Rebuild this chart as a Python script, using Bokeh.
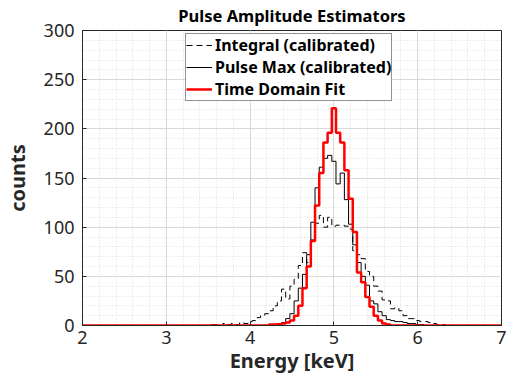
from bokeh.plotting import figure
from bokeh.models import SingleIntervalTicker, Range1d, Legend, LegendItem
from bokeh.embed import file_html
from bokeh.resources import INLINE

# ---------------- data (histogram bin centres in keV, counts) ----------------
integral_energy = [2.00, 3.50, 3.55, 3.60, 3.65, 3.70, 3.75, 3.80, 3.85, 3.90, 3.95,
                   4.00, 4.05, 4.10, 4.15, 4.20, 4.25, 4.30, 4.35, 4.40, 4.45,
                   4.50, 4.55, 4.60, 4.65, 4.70, 4.75, 4.80, 4.85, 4.90, 4.95,
                   5.00, 5.05, 5.10, 5.15, 5.20, 5.25, 5.30, 5.35, 5.40, 5.45,
                   5.50, 5.55, 5.60, 5.65, 5.70, 5.75, 5.80, 5.85, 5.90, 5.95,
                   6.00, 6.05, 6.10, 6.15, 6.20, 6.25, 6.30, 6.35, 7.00]
integral_counts = [0, 0, 1, 1, 0, 2, 1, 2, 1, 3, 2,
                   4, 5, 8, 10, 12, 15, 20, 25, 37, 27,
                   40, 47, 61, 74, 64, 87, 104, 112, 100, 110,
                   101, 102, 102, 101, 98, 76, 72, 68, 55, 50,
                   40, 35, 26, 25, 17, 18, 15, 10, 7, 7,
                   5, 4, 4, 3, 2, 1, 1, 0, 0]

pulsemax_energy = [2.00, 4.25, 4.30, 4.35, 4.40, 4.45, 4.50, 4.55, 4.60, 4.65, 4.70,
                   4.75, 4.80, 4.85, 4.90, 4.95, 5.00, 5.05, 5.10, 5.15, 5.20,
                   5.25, 5.30, 5.35, 5.40, 5.45, 5.50, 5.55, 5.60, 5.65, 5.70,
                   5.75, 5.80, 5.85, 5.90, 5.95, 6.00, 6.05, 6.10, 7.00]
pulsemax_counts = [0, 0, 1, 2, 3, 7, 12, 25, 38, 52, 72,
                   105, 140, 161, 170, 173, 167, 144, 155, 128, 103,
                   82, 64, 50, 41, 25, 22, 14, 10, 6, 5,
                   4, 4, 3, 2, 2, 1, 1, 0, 0]

tdfit_energy = [2.00, 4.20, 4.25, 4.30, 4.35, 4.40, 4.45, 4.50, 4.55, 4.60, 4.65,
                4.70, 4.75, 4.80, 4.85, 4.90, 4.95, 5.00, 5.05, 5.10, 5.15,
                5.20, 5.25, 5.30, 5.35, 5.40, 5.45, 5.50, 5.55, 5.60, 5.65,
                5.70, 7.00]
tdfit_counts = [0, 0, 1, 1, 1, 2, 3, 5, 10, 20, 38,
                60, 86, 122, 155, 186, 196, 221, 196, 186, 158,
                129, 95, 54, 44, 29, 19, 10, 5, 2, 1,
                0, 0]

legend_labels = ["Integral (calibrated)", "Pulse Max (calibrated)", "Time Domain Fit"]

# ---------------- figure ----------------
FONT = "Noto Sans"
DARK = "#262626"

p = figure(width=507, height=376, output_backend="svg", toolbar_location=None,
           x_range=Range1d(2, 7), y_range=Range1d(0, 300),
           min_border_left=82, min_border_right=6, min_border_top=30, min_border_bottom=51,
           title="Pulse Amplitude Estimators")

p.title.text_font = FONT
p.title.text_font_size = "16.5px"
p.title.text_font_style = "bold"
p.title.text_color = "#000000"
p.title.align = "center"
p.title.vertical_align = "top"
p.title.standoff = 4

p.outline_line_color = DARK
p.outline_line_width = 1
p.background_fill_color = "white"
p.border_fill_color = "white"

p.xaxis.ticker = SingleIntervalTicker(interval=1, num_minor_ticks=5)
p.yaxis.ticker = SingleIntervalTicker(interval=50, num_minor_ticks=5)

for ax in (p.xaxis, p.yaxis):
    ax.axis_line_color = DARK
    ax.major_tick_line_color = DARK
    ax.minor_tick_line_color = DARK
    ax.major_tick_in = 4
    ax.major_tick_out = 0
    ax.minor_tick_in = 0
    ax.minor_tick_out = 0
    ax.major_label_text_font = FONT
    ax.major_label_text_font_size = "18px"
    ax.major_label_text_color = DARK
    ax.axis_label_text_font = FONT
    ax.axis_label_text_font_size = "20px"
    ax.axis_label_text_font_style = "bold"
    ax.axis_label_text_color = DARK

p.xaxis.axis_label = "Energy [keV]"
p.yaxis.axis_label = "counts"
p.xaxis.major_label_standoff = 5
p.xaxis.axis_label_standoff = 0
p.yaxis.major_label_standoff = 8
p.yaxis.axis_label_standoff = 10

for g in (p.xgrid, p.ygrid):
    g.grid_line_color = "#d8d8d8"
    g.grid_line_width = 1
    g.minor_grid_line_color = "#dddddd"
    g.minor_grid_line_dash = "1 2"
    g.minor_grid_line_width = 1

r_int = p.step(integral_energy, integral_counts, mode="center",
               line_color="#000000", line_width=1, line_dash="6 4")
r_pm = p.step(pulsemax_energy, pulsemax_counts, mode="center",
              line_color="#000000", line_width=1)
r_td = p.step(tdfit_energy, tdfit_counts, mode="center",
              line_color="#ff0000", line_width=2.5)

legend = Legend(items=[LegendItem(label=legend_labels[0], renderers=[r_int]),
                       LegendItem(label=legend_labels[1], renderers=[r_pm]),
                       LegendItem(label=legend_labels[2], renderers=[r_td])],
                location=(103, 224))
legend.label_text_font = FONT
legend.label_text_font_size = "16px"
legend.label_text_font_style = "bold"
legend.label_text_color = "#000000"
legend.label_height = 22
legend.glyph_height = 22
legend.glyph_width = 26
legend.label_standoff = 3
legend.spacing = 0
legend.padding = 0
legend.margin = 0
legend.border_line_color = DARK
legend.border_line_width = 1
legend.background_fill_color = "white"
legend.background_fill_alpha = 1.0
p.add_layout(legend, "center")

open("out.html", "w").write(file_html(p, INLINE))
